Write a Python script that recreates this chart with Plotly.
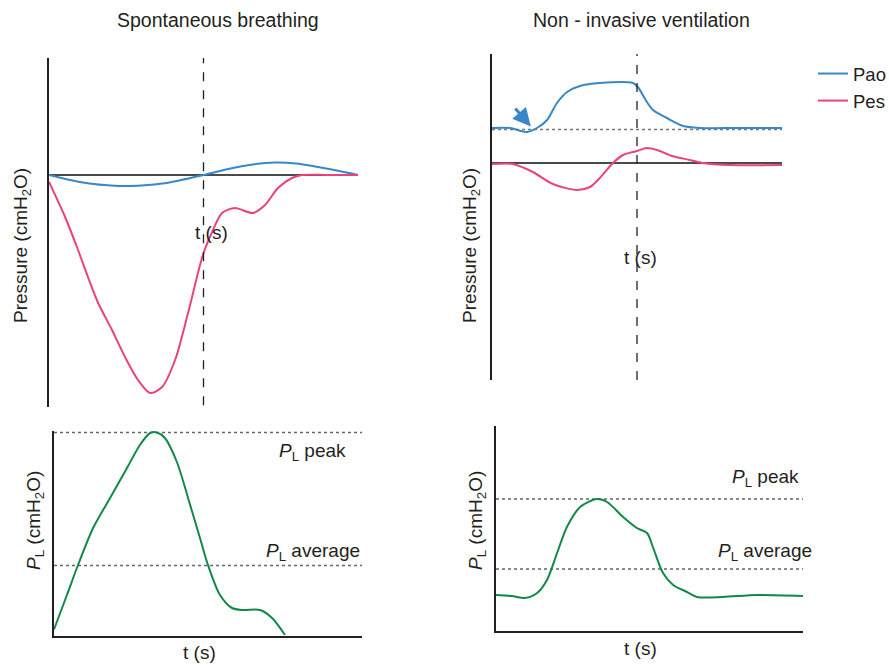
import plotly.graph_objects as go

# ---------------- data ----------------
# Spontaneous breathing (top-left), pressures in cmH2O (arbitrary scale), t in s (arbitrary)
sb_t_pao = [0, 0.6, 1.3, 2.0, 2.6, 3.2, 3.9, 5.0, 5.8, 6.6, 7.3, 8.0, 8.7, 9.4, 10]
sb_pao = [0, -0.45, -0.85, -1.05, -1.1, -1.0, -0.75, 0, 0.6, 1.05, 1.25, 1.15, 0.8, 0.4, 0]

sb_t_pes = [0, 0.52, 0.94, 1.26, 1.59, 2.04, 2.46, 2.88, 3.27, 3.66, 4.08, 4.5, 4.98,
            5.28, 5.6, 6.02, 6.6, 6.99, 7.41, 7.86, 8.19, 9.0, 10]
sb_pes = [-0.7, -4.2, -7.5, -10.2, -12.8, -15.5, -18.2, -20.5, -21.8, -21.2, -18.5, -13.8, -8.0,
          -5.7, -3.8, -3.3, -3.8, -3.0, -1.3, -0.3, 0, 0, 0]

# Non-invasive ventilation (top-right)
niv_t_pao = [0, 0.62, 1.21, 1.55, 1.9, 2.24, 2.59, 3.03, 3.72, 4.86, 5.03, 5.34, 5.55,
             6.03, 6.59, 7.17, 8.5, 10]
niv_pao = [3.45, 3.45, 3.05, 3.45, 4.25, 5.95, 7.05, 7.65, 7.95, 7.95, 7.55, 6.05, 5.25,
           4.45, 3.65, 3.45, 3.45, 3.45]
niv_t_pes = [0, 0.72, 1.41, 2.1, 2.93, 3.38, 3.72, 4.17, 4.52, 5.0, 5.34, 5.69, 6.21,
             6.83, 7.28, 8.21, 10]
niv_pes = [-0.15, -0.15, -0.95, -2.15, -2.75, -2.45, -1.55, -0.05, 0.75, 1.15, 1.45, 1.25, 0.65,
           0.25, -0.05, -0.25, -0.25]
niv_peep = 3.3

# Transpulmonary pressure P_L (bottom panels)
sb_t_pl = [0, 0.42, 0.78, 1.27, 1.82, 2.37, 2.79, 3.12, 3.34, 3.6, 3.99, 4.42, 4.74, 5.0,
           5.39, 5.78, 6.14, 6.69, 7.08, 7.5]
sb_pl = [0.6, 4.05, 7.05, 10.75, 13.75, 16.75, 19.05, 20.25, 20.3, 19.75, 17.35, 13.05, 9.75, 7.05,
         4.05, 2.75, 2.55, 2.55, 1.75, 0.05]
sb_pl_peak = 20.3
sb_pl_avg = 7.0

niv_t_pl = [0, 0.52, 0.94, 1.34, 1.66, 1.99, 2.31, 2.74, 3.29, 3.62, 4.14, 4.59, 4.92, 5.11,
            5.44, 5.77, 6.22, 6.55, 7.39, 8.5, 10]
niv_pl = [3.6, 3.5, 3.3, 3.8, 5.1, 7.8, 10.4, 12.4, 13.2, 12.9, 11.4, 10.3, 9.8, 8.4,
          5.8, 4.6, 3.9, 3.4, 3.4, 3.6, 3.5]
niv_pl_peak = 13.2
niv_pl_avg = 6.2

t_end_insp = 5.0

# ---------------- style ----------------
W, H = 889, 665
BLUE = "#3a87c7"
PINK = "#e8437f"
GREEN = "#12894a"
INK = "#231f20"
FONT = "Liberation Sans, Arial, Helvetica, sans-serif"
FS = 19


def px(x):
    return x / W


def py(y):
    return 1 - y / H


fig = go.Figure()

line_kw = dict(shape="spline", smoothing=0.8, width=2)
fig.add_trace(go.Scatter(x=sb_t_pao, y=sb_pao, mode="lines", name="Pao", legendgroup="pao",
                         showlegend=False, line=dict(color=BLUE, **line_kw), xaxis="x", yaxis="y"))
fig.add_trace(go.Scatter(x=sb_t_pes, y=sb_pes, mode="lines", name="Pes", legendgroup="pes",
                         showlegend=False, line=dict(color=PINK, **line_kw), xaxis="x", yaxis="y"))
fig.add_trace(go.Scatter(x=niv_t_pao, y=niv_pao, mode="lines", name="Pao", legendgroup="pao",
                         line=dict(color=BLUE, **line_kw), xaxis="x2", yaxis="y2"))
fig.add_trace(go.Scatter(x=niv_t_pes, y=niv_pes, mode="lines", name="Pes", legendgroup="pes",
                         line=dict(color=PINK, **line_kw), xaxis="x2", yaxis="y2"))
fig.add_trace(go.Scatter(x=sb_t_pl, y=sb_pl, mode="lines", name="P_L", showlegend=False,
                         line=dict(color=GREEN, **line_kw), xaxis="x3", yaxis="y3"))
fig.add_trace(go.Scatter(x=niv_t_pl, y=niv_pl, mode="lines", name="P_L", showlegend=False,
                         line=dict(color=GREEN, **line_kw), xaxis="x4", yaxis="y4"))

axis_common = dict(showgrid=False, ticks="", showticklabels=False, linecolor=INK, linewidth=1.5)

layout = dict(
    width=W, height=H, autosize=False,
    margin=dict(l=0, r=0, t=0, b=0, autoexpand=False),
    paper_bgcolor="white", plot_bgcolor="white",
    font=dict(family=FONT, size=FS, color=INK),
    xaxis=dict(domain=[px(49), px(358)], range=[0, 10], anchor="y", showline=False,
               zeroline=False, **axis_common),
    yaxis=dict(domain=[py(407), py(58)], range=[-23.2, 11.7], anchor="x", showline=True,
               zeroline=True, zerolinecolor="#4a4a4a", zerolinewidth=1.5, **axis_common),
    xaxis2=dict(domain=[px(492), px(782)], range=[0, 10], anchor="y2", showline=False,
                zeroline=False, **axis_common),
    yaxis2=dict(domain=[py(380), py(54)], range=[-21.75, 10.85], anchor="x2", showline=True,
                zeroline=True, zerolinecolor="#4a4a4a", zerolinewidth=1.5, **axis_common),
    xaxis3=dict(domain=[px(54), px(362)], range=[0, 10], anchor="y3", showline=True,
                zeroline=False, **axis_common),
    yaxis3=dict(domain=[py(635.5), py(431)], range=[0, 20.45], anchor="x3", showline=True,
                zeroline=False, **axis_common),
    xaxis4=dict(domain=[px(496), px(803)], range=[0, 10], anchor="y4", showline=True,
                zeroline=False, **axis_common),
    yaxis4=dict(domain=[py(631), py(426)], range=[0, 20.5], anchor="x4", showline=True,
                zeroline=False, **axis_common),
    legend=dict(x=px(813), y=py(55), xanchor="left", yanchor="top", bgcolor="rgba(0,0,0,0)",
                font=dict(size=18.5, family=FONT, color=INK), itemwidth=30, tracegroupgap=0),
)
fig.update_layout(**layout)

shapes = [
    # end-inspiration dashed lines
    dict(type="line", xref="x", yref="y domain", x0=t_end_insp, x1=t_end_insp, y0=0.005, y1=1,
         line=dict(color=INK, width=1.3, dash="dash")),
    dict(type="line", xref="x2", yref="y2 domain", x0=t_end_insp, x1=t_end_insp, y0=0, y1=1,
         line=dict(color=INK, width=1.3, dash="dash")),
    # PEEP baseline
    dict(type="line", xref="x2 domain", yref="y2", x0=0, x1=1, y0=niv_peep, y1=niv_peep,
         line=dict(color="#777", width=1.5, dash="dot"), layer="below"),
    # P_L peak/average references
    dict(type="line", xref="x3 domain", yref="y3", x0=0, x1=1, y0=sb_pl_peak, y1=sb_pl_peak,
         line=dict(color="#666", width=1.5, dash="dot"), layer="below"),
    dict(type="line", xref="x3 domain", yref="y3", x0=0, x1=1, y0=sb_pl_avg, y1=sb_pl_avg,
         line=dict(color="#666", width=1.5, dash="dot"), layer="below"),
    dict(type="line", xref="x4 domain", yref="y4", x0=0, x1=1, y0=niv_pl_peak, y1=niv_pl_peak,
         line=dict(color="#666", width=1.5, dash="dot"), layer="below"),
    dict(type="line", xref="x4 domain", yref="y4", x0=0, x1=1, y0=niv_pl_avg, y1=niv_pl_avg,
         line=dict(color="#666", width=1.5, dash="dot"), layer="below"),
]
fig.update_layout(shapes=shapes)


def note(text, x, y, angle=0, size=FS):
    return dict(text=text, x=px(x), y=py(y), xref="paper", yref="paper", showarrow=False,
                xanchor="center", yanchor="middle", textangle=angle,
                font=dict(size=size, family=FONT, color=INK))


annotations = [
    note("Spontaneous breathing", 218, 20, size=19.5),
    note("Non - invasive ventilation", 641, 20, size=19.5),
    note("Pressure (cmH<sub>2</sub>O)", 22, 246, angle=-90),
    note("Pressure (cmH<sub>2</sub>O)", 471, 246, angle=-90),
    note("t (s)", 211, 232),
    note("t (s)", 640, 257),
    note("<i>P</i><sub>L</sub> (cmH<sub>2</sub>O)", 35, 521, angle=-90),
    note("<i>P</i><sub>L</sub> (cmH<sub>2</sub>O)", 477, 521, angle=-90),
    note("t (s)", 199, 652),
    note("t (s)", 640, 648),
    note("<i>P</i><sub>L</sub> peak", 312, 452),
    note("<i>P</i><sub>L</sub> average", 313, 552),
    note("<i>P</i><sub>L</sub> peak", 765, 478),
    note("<i>P</i><sub>L</sub> average", 765, 552),
    # trigger arrow
    dict(text="", x=1.34, y=3.6, xref="x2", yref="y2", ax=0.76, ay=5.55, axref="x2", ayref="y2",
         showarrow=True, arrowhead=2, arrowsize=1.2, arrowwidth=3, arrowcolor=BLUE, standoff=0),
]
fig.update_layout(annotations=annotations)

# drop the browser's default 8 px page margin so the 889x665 figure fills the window exactly
fig.write_html("out.html", config={"displayModeBar": False, "responsive": False},
               post_script="document.body.style.margin='0';document.body.style.overflow='hidden';")
